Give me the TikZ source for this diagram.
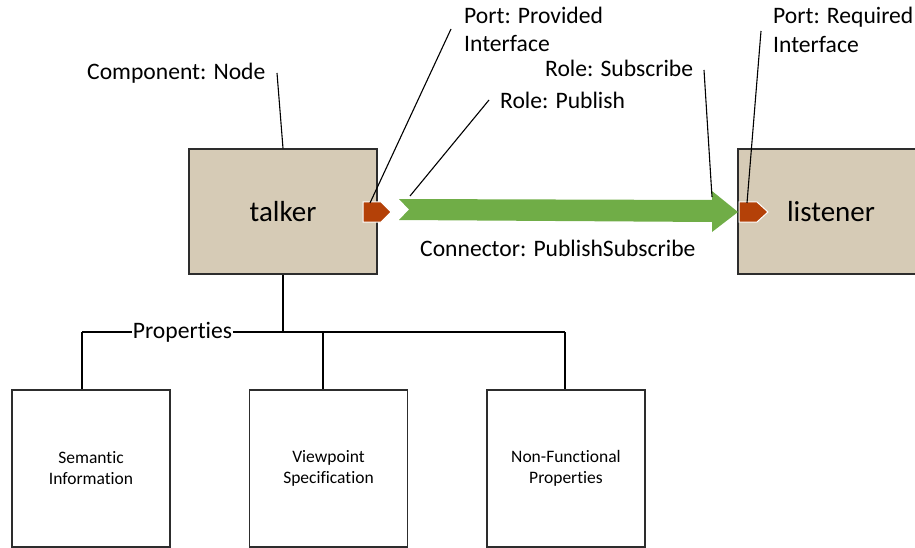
\documentclass[tikz,border=0pt]{standalone}
\usepackage{fontspec}
\setmainfont{Carlito}[RawFeature={-liga}]
\definecolor{tanfill}{RGB}{214,203,182}
\definecolor{portc}{RGB}{180,65,8}
\definecolor{conng}{RGB}{112,173,71}
\definecolor{edgec}{RGB}{45,45,45}
\begin{document}
\begin{tikzpicture}[x=1pt,y=-1pt,
  lbl/.style={font=\fontsize{23.6}{28}\selectfont, inner sep=0pt, anchor=base west},
  leader/.style={draw=black, line width=1.1pt},
  treeline/.style={draw=black, line width=1.2pt},
  comp/.style={draw=edgec, line width=1.4pt, fill=tanfill, font=\fontsize{29}{34}\selectfont, inner sep=0pt},
  prop/.style={draw=edgec, line width=1.3pt, fill=white, minimum width=158pt, minimum height=157pt, align=center, font=\fontsize{17.5}{21}\selectfont, inner sep=0pt},
  port/.style={fill=portc, draw=white, line width=1pt},
]
\useasboundingbox (0,0) rectangle (915,548);

% components
\node[comp, minimum width=188pt, minimum height=125pt] (talker) at (283,211.5) {talker};
\node[comp, minimum width=186pt, minimum height=125pt] (listener) at (831,211.5) {listener};

% connector arrow
\fill[conng] (399,199) -- (712,200) -- (712,191) -- (738,212) -- (712,232) -- (712,222) -- (399,220) -- (409,209.5) -- cycle;

% ports
\draw[port] (363,202) -- (381,202) -- (391,212) -- (381,222) -- (363,222) -- cycle;
\draw[port] (739,202) -- (757,202) -- (768,212) -- (757,222) -- (739,222) -- cycle;

% labels
\node[lbl] (lcomp) at (87,80) {Component: Node};
\node[lbl] (lpp1) at (464,24) {Port: Provided};
\node[lbl] (lpp2) at (464,52) {Interface};
\node[lbl] (lpr1) at (773,24) {Port: Required};
\node[lbl] (lpr2) at (773,53) {Interface};
\node[lbl] (lsub) at (545,77) {Role: Subscribe};
\node[lbl] (lpub) at (500,109) {Role: Publish};
\node[lbl] (lconn) at (420,256) {Connector: PublishSubscribe};

% leader line endpoints
\coordinate (ccomp) at (277,73);
\coordinate (cpp) at (451,29);
\coordinate (cppend) at (370,203);
\coordinate (cpub) at (489,100);
\coordinate (cpubend) at (410,196);
\coordinate (csub) at (704,70);
\coordinate (csubend) at (712,197);
\coordinate (cpr) at (761,31);
\coordinate (cprend) at (747,203);

\draw[leader] (ccomp) -- (talker.north);
\draw[leader] (cpp) -- (cppend);
\draw[leader] (cpub) -- (cpubend);
\draw[leader] (csub) -- (csubend);
\draw[leader] (cpr) -- (cprend);

% properties tree
\node[prop] (b1) at (91,468.5) {Semantic\\Information};
\node[prop] (b2) at (328.5,468.5) {Viewpoint\\Specification};
\node[prop] (b3) at (566,468.5) {Non-Functional\\Properties};

\coordinate (hub) at (283,332);
\coordinate (h1) at (82,332);
\coordinate (h2) at (323,332);
\coordinate (h3) at (565,332);

\draw[treeline] (talker.south) -- (hub);
\draw[treeline] (h1) -- (h3);
\draw[treeline] (h1) -- (h1 |- b1.north);
\draw[treeline] (h2) -- (h2 |- b2.north);
\draw[treeline] (h3) -- (h3 |- b3.north);
\node[font=\fontsize{23.6}{28}\selectfont, fill=white, inner xsep=0.5pt, inner ysep=1pt, anchor=base] (lprop) at (182.5,338.5) {Properties};
\end{tikzpicture}
\end{document}
